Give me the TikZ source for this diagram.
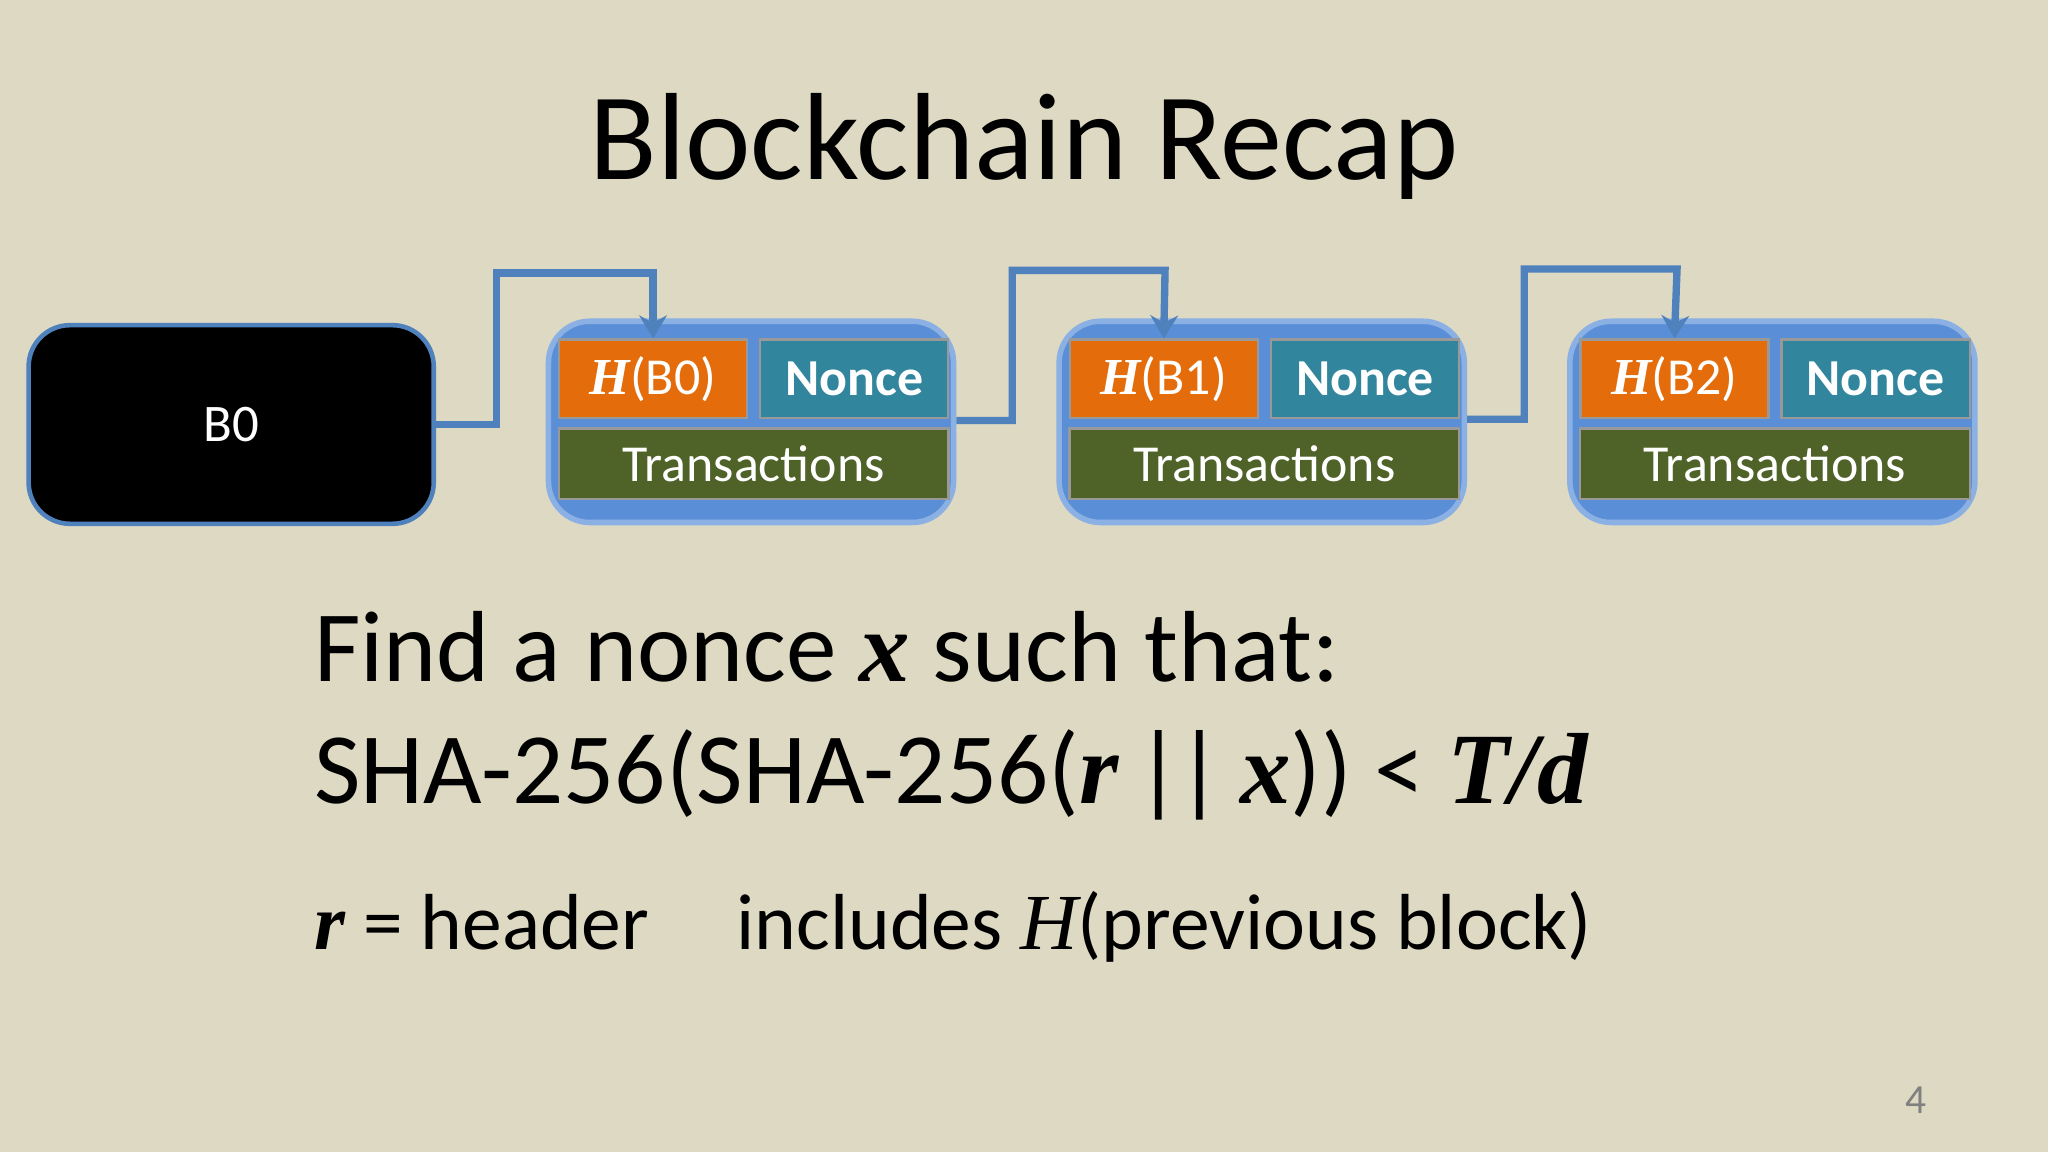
\documentclass[tikz,border=0pt]{standalone}
\usepackage{fontspec}
\setmainfont{Carlito}
\newfontfamily\mathser{Liberation Serif}
\newcommand{\mv}[1]{{\mathser\bfseries\itshape #1}}
\definecolor{bg}{HTML}{DDD9C3}
\definecolor{lnk}{HTML}{4F81BD}
\definecolor{blk}{HTML}{5A8FD8}
\definecolor{org}{HTML}{E46C0A}
\definecolor{tea}{HTML}{31859C}
\definecolor{grn}{HTML}{4F6228}
\begin{document}
\begin{tikzpicture}[x=0.01cm,y=-0.01cm,
  blockbox/.style={draw=blk!70!white,line width=1.2pt,fill=blk,rounded corners=9pt},
  cell/.style={draw=white!60!black,line width=0.5pt,text=white,font=\fontsize{11.3pt}{13pt}\selectfont},
  link/.style={draw=lnk,line width=1.6pt},
  arr/.style={link,-{Stealth[length=5pt,width=6pt]}}]
\usetikzlibrary{arrows.meta}
\fill[bg] (0,0) rectangle (1568,882);
\useasboundingbox (0,0) rectangle (1568,882);
\node[font=\fontsize{27pt}{31pt}\selectfont] (title) at (784,112) {Blockchain Recap};
\node[draw=lnk,line width=1pt,fill=black,rounded corners=9pt,minimum width=3.1cm,minimum height=1.52cm,text=white,font=\fontsize{11.5pt}{13pt}\selectfont] (b0) at (177,325) {B0};
\foreach \i/\p in {1/0,2/1,3/2}{
  \pgfmathsetmacro{\dx}{(\i-1)*391}
  \begin{scope}[xshift=\dx*0.01cm]
  \node[blockbox,minimum width=3.1cm,minimum height=1.54cm] (blk\i) at (575,323) {};
  \node[cell,fill=org,minimum width=1.44cm,minimum height=0.6cm] (h\i) at (500,290) {\mv{H}(B\p)};
  \node[cell,fill=tea,minimum width=1.44cm,minimum height=0.6cm] (n\i) at (654,290) {\bfseries Nonce};
  \node[cell,fill=grn,minimum width=2.98cm,minimum height=0.54cm] (t\i) at (577,355) {Transactions};
  \end{scope}
}
\draw[arr] (b0.east|-0,325) -- (380,325) -- (380,209) -- (500,209) -- (h1.north);
\draw[arr] (blk1.east|-0,322) -- (775,322) -- (775,207) -- (892,207) -- (h2.north);
\draw[arr] (blk2.east|-0,321) -- (1167,321) -- (1167,206) -- (1284,206) -- (h3.north);
\node[anchor=base west,inner sep=0pt,font=\fontsize{22pt}{26pt}\selectfont] (l1) at (240,522) {Find a nonce \mv{x} such that:};
\node[anchor=base west,inner sep=0pt,font=\fontsize{22pt}{26pt}\selectfont] (l2) at (240,615) {SHA-256(SHA-256(\mv{r}\,|\kern-0.05em|\,\mv{x})) < \mv{T/d}};
\node[anchor=base west,inner sep=0pt,font=\fontsize{17.3pt}{21pt}\selectfont] (l3) at (240,727) {\mv{r} = header\hspace{1.1em}includes {\mathser\itshape H}(previous block)};
\node[text=gray,font=\fontsize{9pt}{10pt}\selectfont] (pg) at (1467,842) {4};
\end{tikzpicture}
\end{document}
